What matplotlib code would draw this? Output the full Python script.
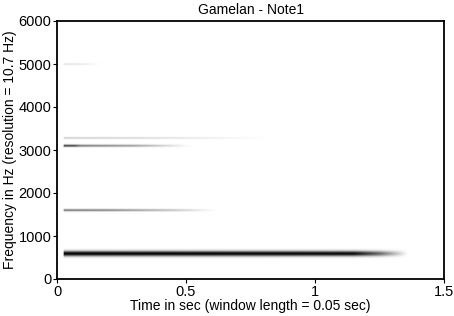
import numpy as np
import matplotlib
matplotlib.use("Agg")
import matplotlib.pyplot as plt

plt.rcParams['font.family'] = ['Liberation Sans', 'DejaVu Sans']

# partials
freqs = [590, 1600, 3100, 3280, 5000]          # Hz
widths = [42, 18, 18, 14, 14]                   # Hz (std of band)
key_times = [
    [0.025, 0.1, 1.15, 1.25, 1.36],
    [0.025, 0.2, 0.45, 0.62],
    [0.025, 0.07, 0.09, 0.3, 0.52],
    [0.025, 0.3, 0.6, 0.82],
    [0.025, 0.1, 0.17],
]
key_levels = [
    [1.0, 1.0, 0.97, 0.6, 0.0],
    [0.55, 0.5, 0.25, 0.0],
    [0.8, 0.75, 0.55, 0.4, 0.0],
    [0.22, 0.18, 0.08, 0.0],
    [0.13, 0.1, 0.0],
]
t_start = 0.025

t = np.linspace(0, 1.5, 700)
f = np.linspace(0, 6000, 1400)
T, F = np.meshgrid(t, f)
img = np.zeros_like(T)
for fr, w, kt, kl in zip(freqs, widths, key_times, key_levels):
    amp = np.interp(t, kt, kl, left=0, right=0)
    amp[t < t_start] = 0
    img = np.maximum(img, amp[None, :] * np.exp(-0.5 * ((F - fr) / w) ** 2))

fig = plt.figure(figsize=(4.54, 3.16), dpi=100)
ax = fig.add_axes([57/454, 37/316, 387/454, 258/316])
ax.imshow(img, origin='lower', extent=[0, 1.5, 0, 6000], aspect='auto',
          cmap='gray_r', vmin=0, vmax=1.0, interpolation='bilinear')
ax.set_xlim(0, 1.5)
ax.set_ylim(0, 6000)
ax.set_xticks([0, 0.5, 1, 1.5])
ax.set_xticklabels(['0', '0.5', '1', '1.5'])
ax.set_yticks(range(0, 6001, 1000))
ax.tick_params(direction='out', length=3, labelsize=10.5, pad=1)
for s in ax.spines.values():
    s.set_linewidth(1.3)
ax.set_title('Gamelan - Note1', fontsize=10, pad=5)
ax.set_xlabel('Time in sec (window length = 0.05 sec)', fontsize=10, labelpad=0)
ax.set_ylabel('Frequency in Hz (resolution = 10.7 Hz)', fontsize=10, labelpad=1)
fig.savefig('out.png', dpi=100)
